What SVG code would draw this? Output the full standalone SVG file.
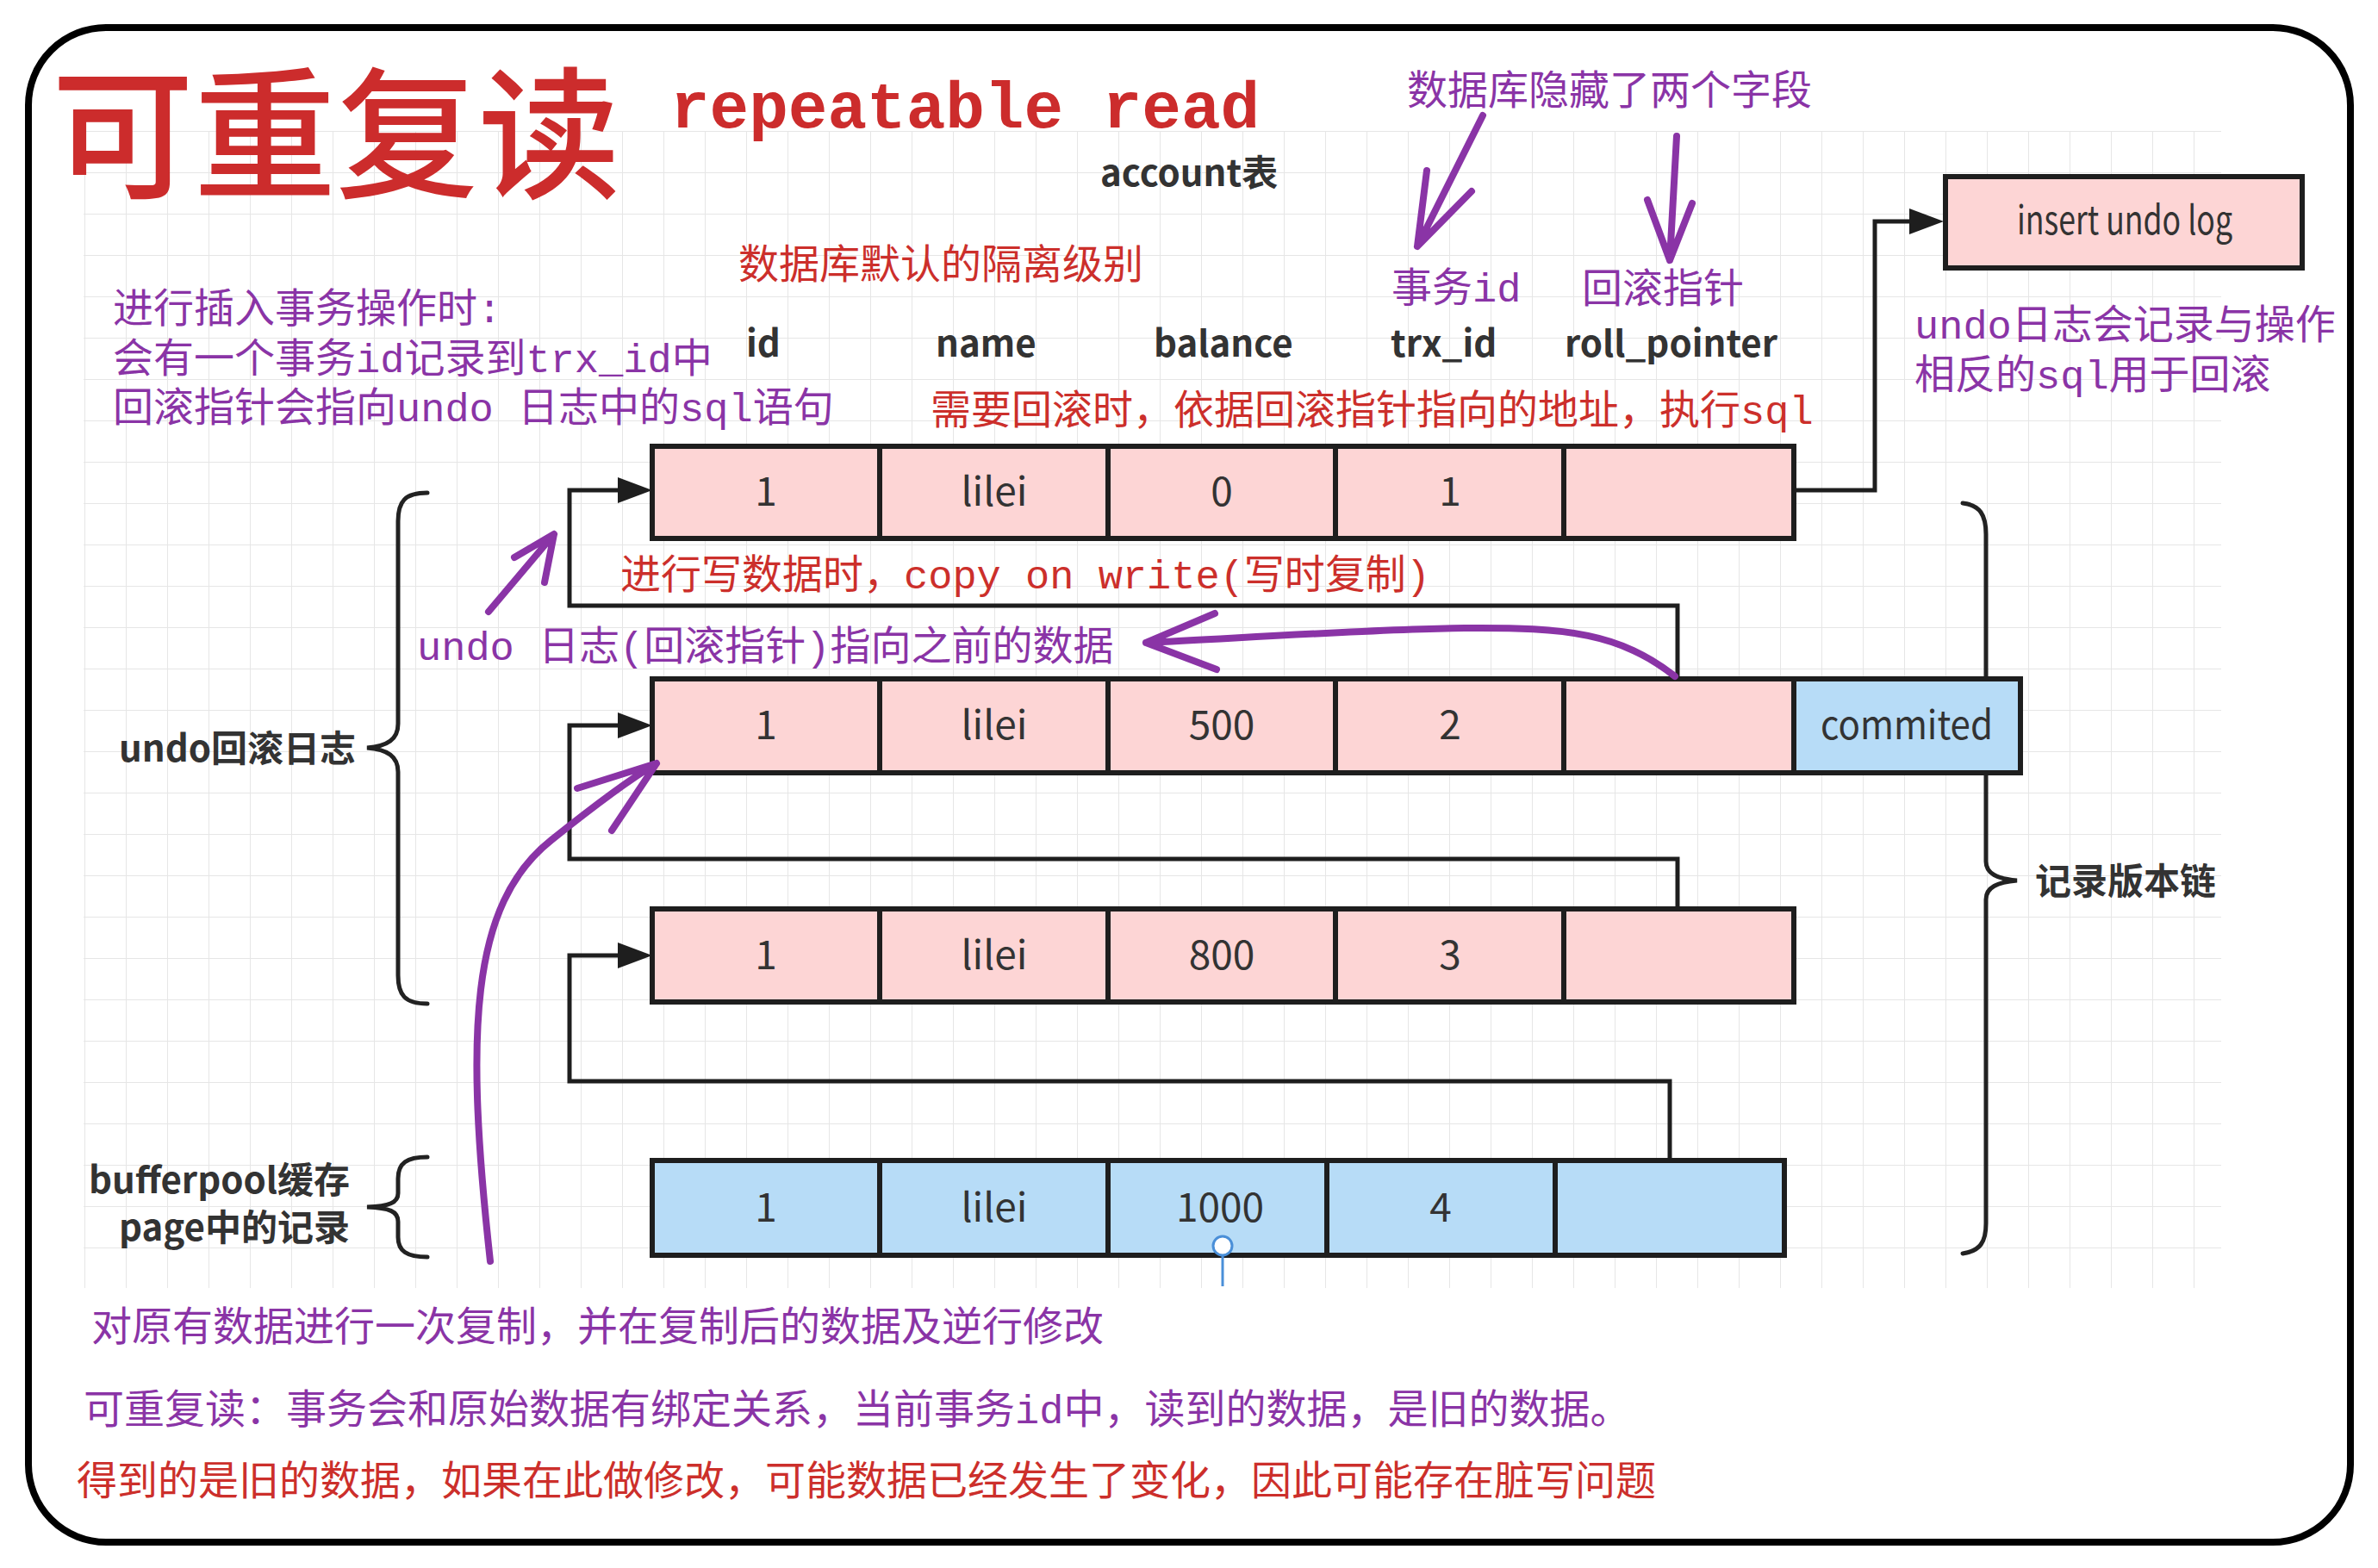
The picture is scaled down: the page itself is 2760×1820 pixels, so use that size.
<svg xmlns="http://www.w3.org/2000/svg" width="2760" height="1820" viewBox="0 0 2760 1820">
<defs>
<pattern id="grid" x="98" y="152" width="48" height="48" patternUnits="userSpaceOnUse">
<path d="M48 0 L0 0 0 48" fill="none" stroke="#e6e6e6" stroke-width="2"/>
</pattern>
<marker id="ah" markerUnits="userSpaceOnUse" markerWidth="42" markerHeight="32" refX="0" refY="15" orient="auto">
<path d="M0 0 L40 15 L0 30 Z" fill="#1e1e1e"/>
</marker>
<style>
.p{fill:#8a34a6;font-family:"Liberation Mono","Noto Sans CJK SC",monospace;font-size:47px}
.r{fill:#cc2f2b;font-family:"Liberation Mono","Noto Sans CJK SC",monospace;font-size:47px}
.h{fill:#333;font-family:"Noto Sans CJK SC",sans-serif;font-weight:bold;font-size:42px}
.v{fill:#333;font-family:"Noto Sans CJK SC",sans-serif;font-size:46px;text-anchor:middle}
.pk{fill:#fdd5d5;stroke:#1e1e1e;stroke-width:6}
.bl{fill:#b7dcf7;stroke:#1e1e1e;stroke-width:6}
.con{fill:none;stroke:#1e1e1e;stroke-width:5}
.pa{fill:none;stroke:#8a34a6;stroke-width:8;stroke-linecap:round;stroke-linejoin:round}
.br{fill:none;stroke:#222;stroke-width:5;stroke-linecap:round}
</style>
</defs>
<rect x="0" y="0" width="2760" height="1820" fill="#fff"/>
<rect x="97" y="152" width="2481" height="1343" fill="url(#grid)"/>
<rect x="33" y="32" width="2695" height="1758" rx="90" ry="90" fill="none" stroke="#000" stroke-width="8"/>

<text x="60" y="217" font-family="'Noto Sans CJK SC',sans-serif" font-weight="500" font-size="165" fill="#cc2c2c">可重复读</text>
<text x="778" y="148" font-family="'Liberation Mono',monospace" font-weight="bold" font-size="76" fill="#cc2c2c">repeatable read</text>
<text x="1277" y="216" class="h">account表</text>
<text x="857" y="323" class="r">数据库默认的隔离级别</text>
<text x="131" y="374" class="p">进行插入事务操作时:</text>
<text x="131" y="432" class="p">会有一个事务id记录到trx_id中</text>
<text x="131" y="489" class="p">回滚指针会指向undo 日志中的sql语句</text>
<text x="1633" y="121" class="p">数据库隐藏了两个字段</text>
<text x="1615" y="350" class="p">事务id</text>
<text x="1836" y="351" class="p">回滚指针</text>
<text x="2222" y="393" class="p">undo日志会记录与操作</text>
<text x="2222" y="451" class="p">相反的sql用于回滚</text>
<text x="1080" y="492" class="r">需要回滚时，依据回滚指针指向的地址，执行sql</text>

<text x="866" y="414" class="h">id</text>
<text x="1086" y="414" class="h">name</text>
<text x="1339" y="414" class="h">balance</text>
<text x="1614" y="414" class="h">trx_id</text>
<text x="1816" y="414" class="h">roll_pointer</text>

<g id="braces">
<path class="br" d="M496 572 C470 572 462 582 462 605 L462 840 C462 858 450 866 426 868 C450 870 462 878 462 896 L462 1132 C462 1155 470 1165 496 1165"/>
<path class="br" d="M496 1343 C472 1343 462 1350 462 1368 L462 1385 C462 1396 452 1400 426 1401 C452 1402 462 1406 462 1418 L462 1436 C462 1452 472 1459 496 1459"/>
<path class="br" d="M2278 584 C2298 586 2305 598 2305 620 L2305 1000 C2305 1014 2318 1020 2341 1022 C2318 1024 2305 1030 2305 1044 L2305 1420 C2305 1442 2298 1452 2278 1455"/>
</g>
<text x="138" y="884" class="h" font-size="40">undo回滚日志</text>
<text x="406" y="1385" class="h" font-size="40" text-anchor="end">bufferpool缓存</text>
<text x="406" y="1440" class="h" font-size="40" text-anchor="end">page中的记录</text>
<text x="2362" y="1038" class="h" font-size="40">记录版本链</text>

<g id="insert-undo-log">
<rect x="2258" y="205" width="414" height="106" class="pk"/>
<text x="2466" y="272" class="v" font-size="40" textLength="250" lengthAdjust="spacingAndGlyphs">insert undo log</text>
</g>

<g id="row1">
<rect x="757" y="518" width="264" height="107" class="pk"/>
<rect x="1021" y="518" width="265" height="107" class="pk"/>
<rect x="1286" y="518" width="264" height="107" class="pk"/>
<rect x="1550" y="518" width="265" height="107" class="pk"/>
<rect x="1815" y="518" width="267" height="107" class="pk"/>
<text x="889" y="587" class="v">1</text>
<text x="1154" y="587" class="v">lilei</text>
<text x="1418" y="587" class="v">0</text>
<text x="1683" y="587" class="v">1</text>
</g>
<g id="row2">
<rect x="757" y="788" width="264" height="109" class="pk"/>
<rect x="1021" y="788" width="265" height="109" class="pk"/>
<rect x="1286" y="788" width="264" height="109" class="pk"/>
<rect x="1550" y="788" width="265" height="109" class="pk"/>
<rect x="1815" y="788" width="267" height="109" class="pk"/>
<rect x="2082" y="788" width="263" height="109" class="bl"/>
<text x="889" y="858" class="v">1</text>
<text x="1154" y="858" class="v">lilei</text>
<text x="1418" y="858" class="v">500</text>
<text x="1683" y="858" class="v">2</text>
<text x="2213" y="858" class="v" textLength="200" lengthAdjust="spacingAndGlyphs">commited</text>
</g>
<g id="row3">
<rect x="757" y="1055" width="264" height="108" class="pk"/>
<rect x="1021" y="1055" width="265" height="108" class="pk"/>
<rect x="1286" y="1055" width="264" height="108" class="pk"/>
<rect x="1550" y="1055" width="265" height="108" class="pk"/>
<rect x="1815" y="1055" width="267" height="108" class="pk"/>
<text x="889" y="1125" class="v">1</text>
<text x="1154" y="1125" class="v">lilei</text>
<text x="1418" y="1125" class="v">800</text>
<text x="1683" y="1125" class="v">3</text>
</g>
<g id="row4">
<rect x="757" y="1347" width="264" height="110" class="bl"/>
<rect x="1021" y="1347" width="265" height="110" class="bl"/>
<rect x="1286" y="1347" width="254" height="110" class="bl"/>
<rect x="1540" y="1347" width="265" height="110" class="bl"/>
<rect x="1805" y="1347" width="266" height="110" class="bl"/>
<text x="889" y="1418" class="v">1</text>
<text x="1154" y="1418" class="v">lilei</text>
<text x="1416" y="1418" class="v">1000</text>
<text x="1672" y="1418" class="v">4</text>
<line x1="1419" y1="1456" x2="1419" y2="1493" stroke="#4a8fd8" stroke-width="3"/>
<circle cx="1419" cy="1446" r="11" fill="#fff" stroke="#4a8fd8" stroke-width="3"/>
</g>

<g id="connectors">
<path class="con" d="M1947 787 L1947 703 L661 703 L661 569 L717 569" marker-end="url(#ah)"/>
<path class="con" d="M1947 1055 L1947 997 L661 997 L661 842 L717 842" marker-end="url(#ah)"/>
<path class="con" d="M1938 1347 L1938 1255 L661 1255 L661 1109 L717 1109" marker-end="url(#ah)"/>
<path class="con" d="M2082 569 L2176 569 L2176 257 L2216 257" marker-end="url(#ah)"/>
</g>

<text x="720" y="683" class="r">进行写数据时，copy on write(写时复制)</text>
<text x="484" y="766" class="p">undo 日志(回滚指针)指向之前的数据</text>

<g id="annotation-arrows">
<path class="pa" d="M1721 134 L1645 286 M1656 198 L1645 286 L1708 222"/>
<path class="pa" d="M1946 158 L1938 302 M1912 232 L1938 302 L1964 236"/>
<path class="pa" d="M567 710 L643 620 M597 647 L643 620 L632 676"/>
<path class="pa" d="M569 1464 C540 1200 545 1050 640 975 C690 935 730 905 762 886 M670 915 L762 886 L710 964"/>
<path class="pa" d="M1944 785 C1880 735 1820 728 1700 729 C1600 730 1450 740 1330 746 M1410 712 L1330 746 L1412 777"/>
</g>

<text x="106" y="1556" class="p" font-size="48">对原有数据进行一次复制，并在复制后的数据及逆行修改</text>
<text x="97" y="1652" class="p" font-size="48">可重复读：事务会和原始数据有绑定关系，当前事务id中，读到的数据，是旧的数据。</text>
<text x="89" y="1735" class="r" font-size="48">得到的是旧的数据，如果在此做修改，可能数据已经发生了变化，因此可能存在脏写问题</text>
</svg>
